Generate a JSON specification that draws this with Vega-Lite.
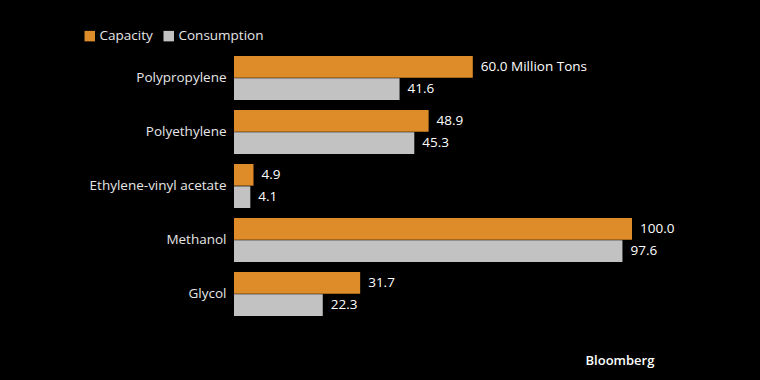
{
  "$schema": "https://vega.github.io/schema/vega-lite/v6.json",
  "width": 398,
  "height": 270,
  "autosize": {"type": "none"},
  "padding": {"left": 234, "top": 51, "right": 128, "bottom": 59},
  "background": "#000000",
  "title": {"text": "Bloomberg", "orient": "bottom", "anchor": "end", "offset": 34, "dx": -20, "color": "#ffffff", "fontSize": 13, "fontWeight": 600, "font": "Open Sans"},
  "data": {"values": [
    {"material": "Polypropylene", "series": "Capacity", "value": 60.0, "label": "60.0 Million Tons"},
    {"material": "Polypropylene", "series": "Consumption", "value": 41.6, "label": "41.6"},
    {"material": "Polyethylene", "series": "Capacity", "value": 48.9, "label": "48.9"},
    {"material": "Polyethylene", "series": "Consumption", "value": 45.3, "label": "45.3"},
    {"material": "Ethylene-vinyl acetate", "series": "Capacity", "value": 4.9, "label": "4.9"},
    {"material": "Ethylene-vinyl acetate", "series": "Consumption", "value": 4.1, "label": "4.1"},
    {"material": "Methanol", "series": "Capacity", "value": 100.0, "label": "100.0"},
    {"material": "Methanol", "series": "Consumption", "value": 97.6, "label": "97.6"},
    {"material": "Glycol", "series": "Capacity", "value": 31.7, "label": "31.7"},
    {"material": "Glycol", "series": "Consumption", "value": 22.3, "label": "22.3"}
  ]},
  "encoding": {
    "y": {"field": "material", "type": "nominal", "sort": null, "title": null,
      "scale": {"paddingInner": 0.185, "paddingOuter": 0.0925},
      "axis": {"domain": false, "ticks": false, "labelPadding": 8, "labelColor": "#e6e6e6", "labelFontSize": 13.5, "labelFont": "Open Sans"}},
    "yOffset": {"field": "series", "type": "nominal", "sort": ["Capacity", "Consumption"], "scale": {"paddingInner": 0.03}},
    "x": {"field": "value", "type": "quantitative", "scale": {"domain": [0, 100], "nice": false}, "axis": null}
  },
  "layer": [
    {"mark": {"type": "bar"},
     "encoding": {"color": {"field": "series", "type": "nominal",
        "scale": {"domain": ["Capacity", "Consumption"], "range": ["#DE8B29", "#C2C2C2"]},
        "legend": {"title": null, "orient": "none", "legendX": -151, "legendY": -22, "direction": "horizontal",
          "symbolType": "square", "symbolSize": 110, "symbolStrokeWidth": 0, "labelColor": "#e6e6e6", "labelFontSize": 13.5, "labelFont": "Open Sans", "columnPadding": 9, "labelOffset": 3}}}},
    {"mark": {"type": "text", "align": "left", "baseline": "middle", "dx": 8, "color": "#ffffff", "fontSize": 13.5, "font": "Open Sans"},
     "encoding": {"text": {"field": "label"}}}
  ],
  "config": {"view": {"stroke": null}}
}
